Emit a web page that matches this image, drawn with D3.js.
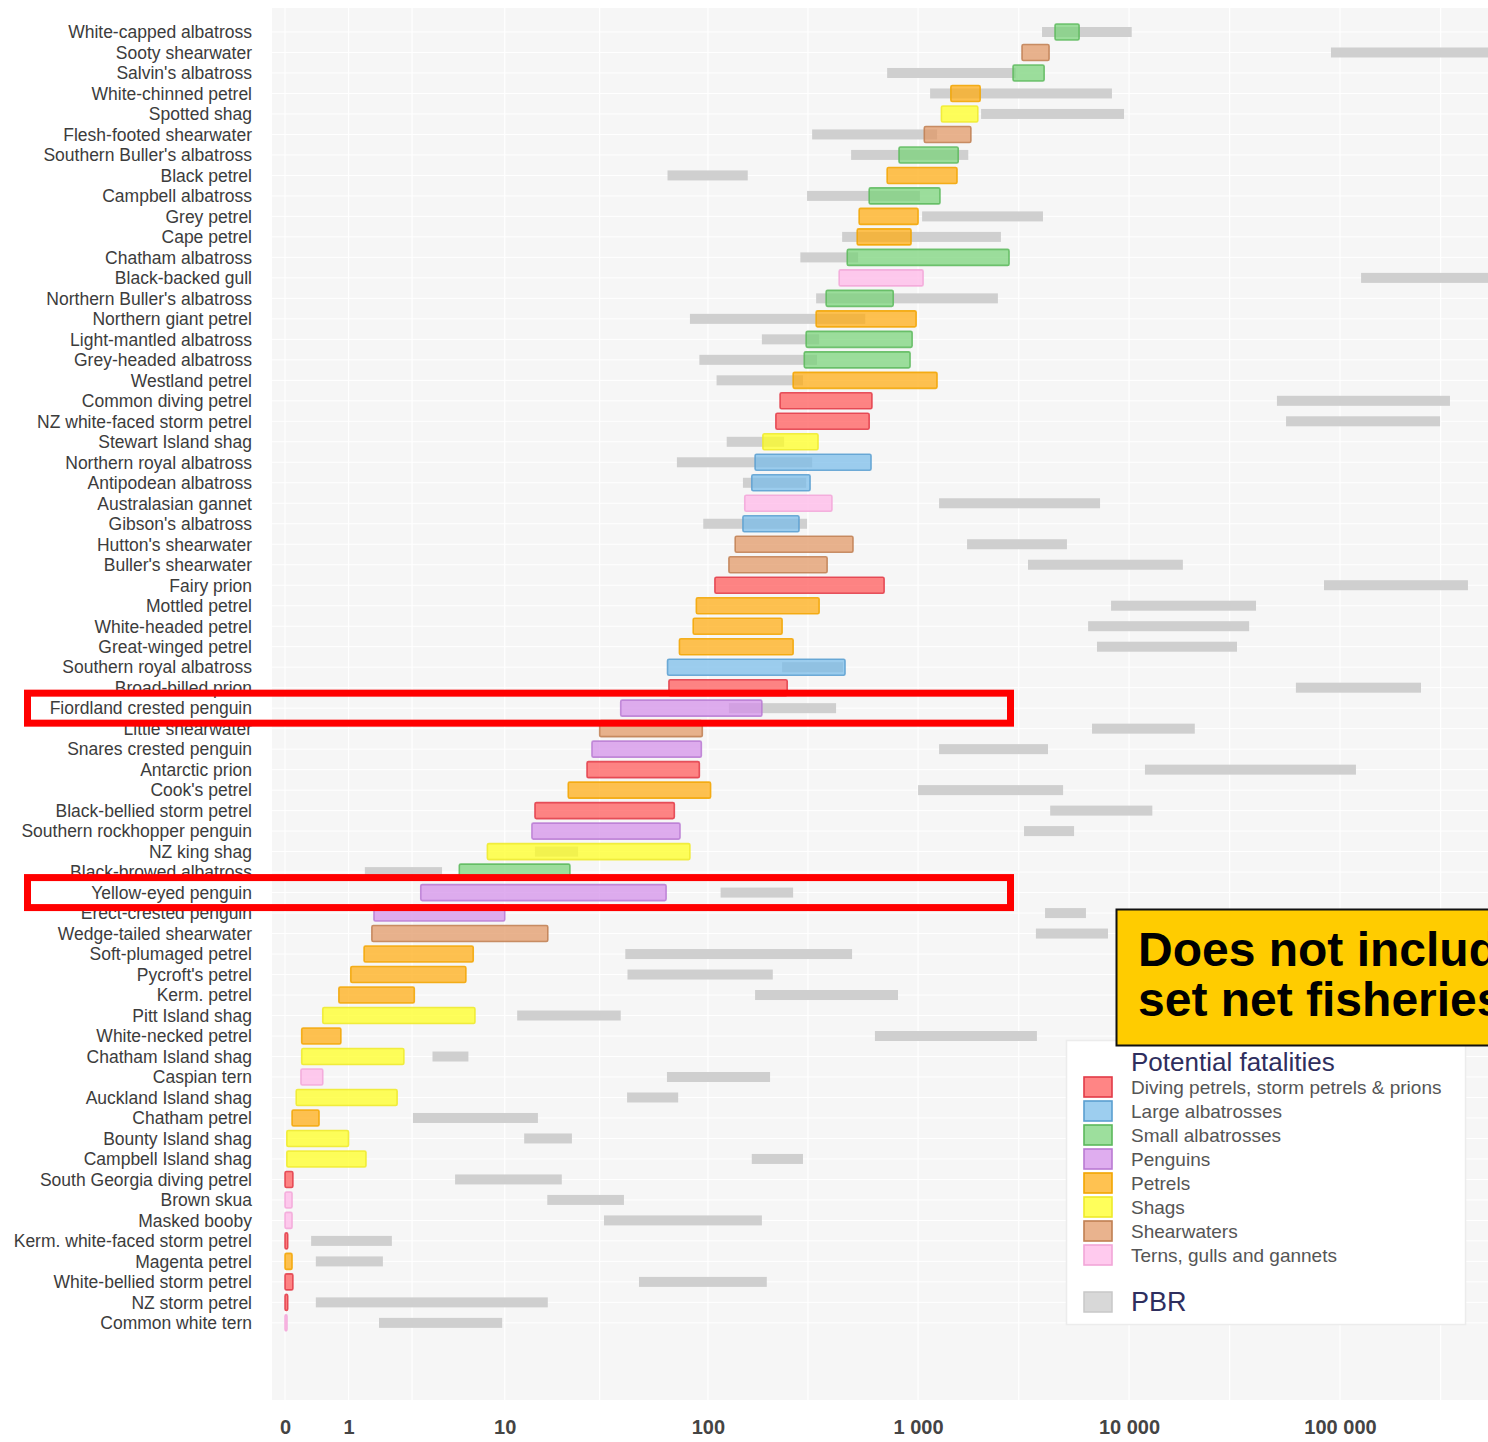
<!DOCTYPE html>
<html>
<head>
<meta charset="utf-8">
<script src="https://cdn.jsdelivr.net/npm/d3@7"></script>
<style>
  body { margin: 0; background: #fff; }
  svg { display: block; }
</style>
</head>
<body>
<svg id="chart" width="1488" height="1442"></svg>
<script>
// species in plotting order (top to bottom)
var species = [
  "White-capped albatross", "Sooty shearwater", "Salvin's albatross", "White-chinned petrel",
  "Spotted shag", "Flesh-footed shearwater", "Southern Buller's albatross", "Black petrel",
  "Campbell albatross", "Grey petrel", "Cape petrel", "Chatham albatross", "Black-backed gull",
  "Northern Buller's albatross", "Northern giant petrel", "Light-mantled albatross",
  "Grey-headed albatross", "Westland petrel", "Common diving petrel", "NZ white-faced storm petrel",
  "Stewart Island shag", "Northern royal albatross", "Antipodean albatross", "Australasian gannet",
  "Gibson's albatross", "Hutton's shearwater", "Buller's shearwater", "Fairy prion",
  "Mottled petrel", "White-headed petrel", "Great-winged petrel", "Southern royal albatross",
  "Broad-billed prion", "Fiordland crested penguin", "Little shearwater", "Snares crested penguin",
  "Antarctic prion", "Cook's petrel", "Black-bellied storm petrel", "Southern rockhopper penguin",
  "NZ king shag", "Black-browed albatross", "Yellow-eyed penguin", "Erect-crested penguin",
  "Wedge-tailed shearwater", "Soft-plumaged petrel", "Pycroft's petrel", "Kerm. petrel",
  "Pitt Island shag", "White-necked petrel", "Chatham Island shag", "Caspian tern",
  "Auckland Island shag", "Chatham petrel", "Bounty Island shag", "Campbell Island shag",
  "South Georgia diving petrel", "Brown skua", "Masked booby", "Kerm. white-faced storm petrel",
  "Magenta petrel", "White-bellied storm petrel", "NZ storm petrel", "Common white tern"
];

// group index of each species (see groupNames)
var speciesGroup = [
  2, 6, 2, 4, 5, 6, 2, 4, 2, 4, 4, 2, 7, 2, 4, 2,
  2, 4, 0, 0, 5, 1, 1, 7, 1, 6, 6, 0, 4, 4, 4, 1,
  0, 3, 6, 3, 0, 4, 0, 3, 5, 2, 3, 3, 6, 4, 4, 4,
  5, 4, 5, 7, 5, 4, 5, 5, 0, 7, 7, 0, 4, 0, 0, 7
];

// potential fatalities (low / high)
var fatalLow = [
  4460, 3110, 2820, 1430, 1290, 1070, 812, 713, 586, 525, 514, 461, 422, 366, 328, 294,
  288, 255, 221, 211, 183, 168, 162, 150, 147, 135, 126, 108, 88, 85, 73, 64,
  65, 38, 30, 27.5, 26, 21, 14.3, 13.8, 8.1, 5.7, 3.4, 1.64, 1.58, 1.37, 1.05, 0.8,
  0.51, 0.2, 0.2, 0.19, 0.13, 0.08, 0.02, 0.02, 0, 0, 0, 0, 0, 0, 0, 0
];
var fatalHigh = [
  5800, 4180, 3960, 1970, 1920, 1780, 1550, 1530, 1270, 1000, 926, 2700, 1056, 762, 979, 937,
  916, 1230, 604, 586, 335, 598, 307, 390, 272, 491, 370, 690, 339, 226, 255, 450,
  239, 181, 94, 93, 91, 103, 69, 73.5, 82, 21.4, 63, 10, 16.6, 6.8, 6.2, 3.1,
  6.95, 0.84, 2.66, 0.51, 2.4, 0.45, 1.0, 1.42, 0.09, 0.08, 0.08, 0.03, 0.08, 0.09, 0.03, 0.02
];

// PBR (low / high)
var pbrLow = [
  3870, 90600, 713, 1140, 1990, 314, 481, 64, 297, 1045, 436, 276, 125900, 328, 82, 181,
  91, 110, 50250, 55500, 123, 71, 147, 1258, 95, 1707, 3320, 84000, 8220, 6400, 7050, 226,
  61800, 126, 6680, 1258, 11900, 1000, 4230, 3180, 14.3, 1.39, 115, 4000, 3620, 40, 41, 168,
  11.6, 624, 4.0, 63.6, 40.8, 3.04, 12.6, 162, 5.4, 16.5, 31.5, 0.33, 0.40, 46.6, 0.40, 1.79
];
var pbrHigh = [
  10300, 700000, 2900, 8300, 9470, 1230, 1730, 155, 1020, 3910, 2470, 519, 700000, 2390, 561, 339,
  331, 284, 332000, 298000, 231, 314, 294, 7290, 297, 5080, 18000, 404000, 40000, 37100, 32500, 440,
  242000, 408, 20500, 4130, 119000, 4870, 12900, 5490, 23.5, 4.55, 255, 6250, 7950, 486, 204, 803,
  38, 3660, 6.4, 198, 72, 14.8, 21.9, 284, 19.5, 39.4, 181, 2.21, 1.91, 191, 16.6, 9.7
];

var groupNames = [
  "Diving petrels, storm petrels & prions", "Large albatrosses", "Small albatrosses",
  "Penguins", "Petrels", "Shags", "Shearwaters", "Terns, gulls and gannets"
];
var groupFill = ["#ff5656", "#77bbe9", "#77d277", "#d28ee9", "#ffab0e", "#ffff1c", "#e09663", "#ffb6e8"];
var groupStroke = ["#e23a46", "#5a9fd0", "#5cb85c", "#b97ad2", "#f2a500", "#eeea2a", "#c07f52", "#f2a6d8"];

var tickValues = [0, 1, 10, 100, 1000, 10000, 100000];
var tickLabels = ["0", "1", "10", "100", "1 000", "10 000", "100 000"];

var highlighted = ["Fiordland crested penguin", "Yellow-eyed penguin"];

var rows = species.map(function (s, i) {
  return { name: s, g: speciesGroup[i], fl: fatalLow[i], fh: fatalHigh[i], pl: pbrLow[i], ph: pbrHigh[i] };
});

var svg = d3.select("#chart");
var W = 1488, H = 1442;
var panel = { left: 272, top: 8, right: 1488, bottom: 1400 };

var x = d3.scaleSymlog().constant(1).domain([0, 100000]).range([285, 1340]);
var step = 20.49;
var y = d3.scaleBand().domain(species).range([21.75, 21.75 + species.length * step]);
var bw = y.bandwidth();

// panel background
svg.append("rect")
  .attr("x", panel.left).attr("y", panel.top)
  .attr("width", panel.right - panel.left).attr("height", panel.bottom - panel.top)
  .attr("fill", "#f6f6f6");

svg.append("clipPath").attr("id", "clip")
  .append("rect")
  .attr("x", panel.left).attr("y", panel.top)
  .attr("width", panel.right - panel.left).attr("height", panel.bottom - panel.top);

var plot = svg.append("g").attr("clip-path", "url(#clip)");

// faint grid
var minor = [];
[1, 10, 100, 1000, 10000, 100000].forEach(function (d) { minor.push(d * 3); });
plot.selectAll(".gx").data(tickValues.concat(minor)).enter().append("line")
  .attr("x1", function (d) { return x(d); }).attr("x2", function (d) { return x(d); })
  .attr("y1", panel.top).attr("y2", panel.bottom)
  .attr("stroke", "#ffffff").attr("stroke-width", 1.2);
plot.selectAll(".gy").data(species).enter().append("line")
  .attr("x1", panel.left).attr("x2", panel.right)
  .attr("y1", function (d) { return y(d) + bw / 2; }).attr("y2", function (d) { return y(d) + bw / 2; })
  .attr("stroke", "#ffffff").attr("stroke-width", 1);

// PBR bars
plot.selectAll(".pbr").data(rows).enter().append("rect")
  .attr("x", function (d) { return x(d.pl); })
  .attr("width", function (d) { return x(d.ph) - x(d.pl); })
  .attr("y", function (d) { return y(d.name) + bw / 2 - 5; })
  .attr("height", 10)
  .attr("fill", "#cfcfcf");

// potential fatalities bars
plot.selectAll(".pf").data(rows).enter().append("rect")
  .attr("x", function (d) { return x(d.fl); })
  .attr("width", function (d) { return Math.max(2, x(d.fh) - x(d.fl)); })
  .attr("y", function (d) { return y(d.name) + bw / 2 - 8; })
  .attr("height", 16)
  .attr("rx", 1.5)
  .attr("fill", function (d) { return groupFill[d.g]; })
  .attr("fill-opacity", 0.72)
  .attr("stroke", function (d) { return groupStroke[d.g]; })
  .attr("stroke-opacity", 0.85)
  .attr("stroke-width", 1.6);

// species labels
svg.selectAll(".lab").data(species).enter().append("text")
  .attr("x", 252)
  .attr("y", function (d) { return y(d) + bw / 2; })
  .attr("dy", "0.36em")
  .attr("text-anchor", "end")
  .attr("font-family", "Liberation Sans, Arial, sans-serif")
  .attr("font-size", 17.5)
  .attr("fill", "#3c3c3c")
  .text(function (d) { return d; });

// x axis
var axis = svg.append("g")
  .attr("transform", "translate(0,1420)")
  .call(d3.axisBottom(x).tickValues(tickValues).tickSize(0).tickPadding(0)
    .tickFormat(function (d, i) { return tickLabels[i]; }));
axis.select(".domain").remove();
axis.selectAll("text")
  .attr("font-family", "Liberation Sans Narrow, Liberation Sans, Arial, sans-serif")
  .attr("font-size", 20)
  .attr("font-weight", "bold")
  .attr("fill", "#444");

// highlight boxes
highlighted.forEach(function (s) {
  var cy = y(s) + bw / 2;
  svg.append("rect")
    .attr("x", 27.5).attr("y", cy - 15)
    .attr("width", 983).attr("height", 30)
    .attr("fill", "none")
    .attr("stroke", "#ff0000")
    .attr("stroke-width", 7);
});

// legend
var lg = svg.append("g");
lg.append("rect")
  .attr("x", 1066.5).attr("y", 1040.5).attr("width", 399).attr("height", 284)
  .attr("fill", "#ffffff").attr("stroke", "#ececec").attr("stroke-width", 1.5);
lg.append("text")
  .attr("x", 1131).attr("y", 1071)
  .attr("font-family", "Liberation Sans, Arial, sans-serif")
  .attr("font-size", 26).attr("fill", "#2e2e5e")
  .text("Potential fatalities");
var items = lg.selectAll(".li").data(groupNames).enter().append("g")
  .attr("transform", function (d, i) { return "translate(0," + (1087 + i * 24) + ")"; });
items.append("rect")
  .attr("x", 1084).attr("y", -10).attr("width", 28).attr("height", 20)
  .attr("fill", function (d, i) { return groupFill[i]; })
  .attr("fill-opacity", 0.72)
  .attr("stroke", function (d, i) { return groupStroke[i]; })
  .attr("stroke-width", 1.6);
items.append("text")
  .attr("x", 1131).attr("dy", "0.35em")
  .attr("font-family", "Liberation Sans, Arial, sans-serif")
  .attr("font-size", 19).attr("fill", "#555")
  .text(function (d) { return d; });
lg.append("rect")
  .attr("x", 1084).attr("y", 1292).attr("width", 28).attr("height", 20)
  .attr("fill", "#d8d8d8").attr("stroke", "#c8c8c8").attr("stroke-width", 1.5);
lg.append("text")
  .attr("x", 1131).attr("y", 1311)
  .attr("font-family", "Liberation Sans, Arial, sans-serif")
  .attr("font-size", 27).attr("fill", "#2e2e5e")
  .text("PBR");

// note box
svg.append("rect")
  .attr("x", 1116.5).attr("y", 909.5).attr("width", 400).attr("height", 136)
  .attr("fill", "#ffcc00").attr("stroke", "#111").attr("stroke-width", 2);
var note = svg.append("text")
  .attr("font-family", "Liberation Sans, Arial, sans-serif")
  .attr("font-size", 48).attr("font-weight", "bold").attr("fill", "#000");
note.append("tspan").attr("x", 1138).attr("y", 966).text("Does not include");
note.append("tspan").attr("x", 1138).attr("y", 1016).text("set net fisheries");
</script>
</body>
</html>
